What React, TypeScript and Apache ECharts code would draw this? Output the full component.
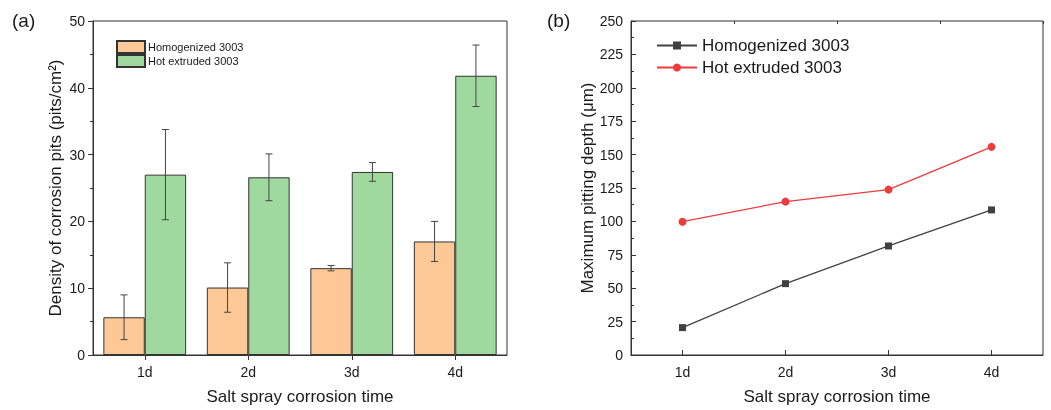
import React, { useEffect, useRef } from "react";
import * as echarts from "echarts";

const categories = ["1d", "2d", "3d", "4d"];
const homBar = [5.65, 10.1, 13.0, 17.0];
const homBarErr = [3.35, 3.7, 0.4, 3.0];
const hotBar = [27.0, 26.6, 27.4, 41.8];
const hotBarErr = [6.75, 3.5, 1.4, 4.6];
const homDepth = [20.5, 53.4, 81.6, 108.6];
const hotDepth = [99.8, 114.8, 123.8, 155.8];

const FONT = "Arial, 'Liberation Sans', sans-serif";
const AX = "#333333";
const TXT = "#1a1a1a";
const ORANGE = "#FEC896";
const GREEN = "#A0D99E";
const DARK = "#404040";
const RED = "#EE3B3B";

function errSeries(vals: number[], errs: number[], offset: number) {
  return {
    type: "custom",
    xAxisIndex: 0,
    yAxisIndex: 0,
    z: 10,
    silent: true,
    data: vals.map((v, i) => [i, v, errs[i]]),
    encode: { x: 0, y: 1 },
    renderItem: (params: any, api: any) => {
      const i = api.value(0);
      const v = api.value(1);
      const e = api.value(2);
      const band = api.size([1, 0])[0];
      const c = api.coord([i, v]);
      const cx = c[0] + offset * band;
      const top = api.coord([i, v + e])[1];
      const bot = api.coord([i, v - e])[1];
      const cap = 3.5;
      const style = { stroke: "#444", lineWidth: 1 };
      return {
        type: "group",
        children: [
          { type: "line", shape: { x1: cx, y1: top, x2: cx, y2: bot }, style },
          { type: "line", shape: { x1: cx - cap, y1: top, x2: cx + cap, y2: top }, style },
          { type: "line", shape: { x1: cx - cap, y1: bot, x2: cx + cap, y2: bot }, style },
        ],
      };
    },
  };
}

export default function App() {
  const ref = useRef<HTMLDivElement>(null);
  useEffect(() => {
    if (!ref.current) return;
    const chart = echarts.init(ref.current, undefined, { renderer: "svg" });
    const axisCommon = {
      axisLine: { show: true, lineStyle: { color: AX, width: 1 } },
      axisLabel: { color: TXT, fontSize: 14, fontFamily: FONT },
      nameTextStyle: { color: TXT, fontSize: 17, fontFamily: FONT },
      splitLine: { show: false },
    };
    chart.setOption({
      animation: false,
      textStyle: { fontFamily: FONT },
      grid: [
        { left: 93, top: 21, width: 414, height: 334, show: true, borderColor: AX, borderWidth: 1, backgroundColor: "transparent" },
        { left: 631, top: 21, width: 412, height: 334, show: true, borderColor: AX, borderWidth: 1, backgroundColor: "transparent" },
      ],
      legend: [
        {
          data: [
            { name: "Homogenized 3003", icon: "rect" },
            { name: "Hot extruded 3003", icon: "rect" },
          ],
          orient: "vertical",
          left: 116,
          top: 40,
          padding: 0,
          itemGap: 0,
          itemWidth: 28,
          itemHeight: 12,
          selectedMode: false,
          textStyle: { fontSize: 11, color: TXT, fontFamily: FONT, lineHeight: 12, padding: [0, 0, 0, -2] },
        },
        {
          data: ["Homogenized 3003 (b)", "Hot extruded 3003 (b)"],
          formatter: (n: string) => n.replace(" (b)", ""),
          orient: "vertical",
          left: 656,
          top: 36,
          padding: 0,
          itemGap: 3,
          itemWidth: 40,
          itemHeight: 10,
          selectedMode: false,
          textStyle: { fontSize: 17, color: TXT, fontFamily: FONT, lineHeight: 19 },
        },
      ],
      xAxis: [
        {
          ...axisCommon,
          type: "category",
          gridIndex: 0,
          data: categories,
          boundaryGap: true,
          name: "Salt spray corrosion time",
          nameLocation: "middle",
          nameGap: 33,
          axisTick: { show: true, alignWithLabel: true, length: 5, lineStyle: { color: AX } },
          axisLabel: { ...axisCommon.axisLabel, margin: 10 },
        },
        {
          ...axisCommon,
          type: "category",
          gridIndex: 1,
          data: categories,
          boundaryGap: true,
          name: "Salt spray corrosion time",
          nameLocation: "middle",
          nameGap: 33,
          axisTick: { show: true, alignWithLabel: true, inside: true, length: 5, lineStyle: { color: AX } },
          axisLabel: { ...axisCommon.axisLabel, margin: 10 },
        },
        {
          type: "category",
          gridIndex: 1,
          data: categories,
          boundaryGap: true,
          axisLine: { show: false },
          axisLabel: { show: false },
          axisTick: { show: true, inside: true, length: 3, interval: 0, lineStyle: { color: AX } },
          splitLine: { show: false },
        },
      ],
      yAxis: [
        {
          ...axisCommon,
          type: "value",
          gridIndex: 0,
          min: 0,
          max: 50,
          interval: 10,
          name: "Density of corrosion pits (pits/cm²)",
          nameLocation: "middle",
          nameGap: 29,
          axisTick: { show: true, length: 5, lineStyle: { color: AX } },
          minorTick: { show: true, splitNumber: 2, length: 3, lineStyle: { color: AX } },
          axisLabel: { ...axisCommon.axisLabel, margin: 8 },
        },
        {
          ...axisCommon,
          type: "value",
          gridIndex: 1,
          min: 0,
          max: 250,
          interval: 25,
          name: "Maximum pitting depth (μm)",
          nameLocation: "middle",
          nameGap: 35,
          axisTick: { show: true, inside: true, length: 5, lineStyle: { color: AX } },
          minorTick: { show: true, splitNumber: 2, length: 3, lineStyle: { color: AX } },
          axisLabel: { ...axisCommon.axisLabel, margin: 8 },
        },
      ],
      graphic: [
        { type: "text", left: 12, top: 11, style: { text: "(a)", fontSize: 19, fill: TXT, fontFamily: FONT } },
        { type: "text", left: 547, top: 11, style: { text: "(b)", fontSize: 19, fill: TXT, fontFamily: FONT } },
      ],
      series: [
        {
          name: "Homogenized 3003",
          type: "bar",
          xAxisIndex: 0,
          yAxisIndex: 0,
          data: homBar,
          barWidth: "40%",
          barGap: "0%",
          itemStyle: { color: ORANGE, borderColor: "#333", borderWidth: 1 },
        },
        {
          name: "Hot extruded 3003",
          type: "bar",
          xAxisIndex: 0,
          yAxisIndex: 0,
          data: hotBar,
          barWidth: "40%",
          barGap: "0%",
          itemStyle: { color: GREEN, borderColor: "#333", borderWidth: 1 },
        },
        errSeries(homBar, homBarErr, -0.2),
        errSeries(hotBar, hotBarErr, 0.2),
        {
          name: "Homogenized 3003 (b)",
          type: "line",
          xAxisIndex: 1,
          yAxisIndex: 1,
          data: homDepth,
          symbol: "rect",
          symbolSize: 7,
          lineStyle: { color: DARK, width: 1.3 },
          itemStyle: { color: DARK },
        },
        {
          name: "Hot extruded 3003 (b)",
          type: "line",
          xAxisIndex: 1,
          yAxisIndex: 1,
          data: hotDepth,
          symbol: "circle",
          symbolSize: 8,
          lineStyle: { color: RED, width: 1.3 },
          itemStyle: { color: RED },
        },
      ],
    });
    return () => chart.dispose();
  }, []);
  return <div ref={ref} style={{ position: "fixed", left: 0, top: 0, width: 1051, height: 410 }} />;
}
